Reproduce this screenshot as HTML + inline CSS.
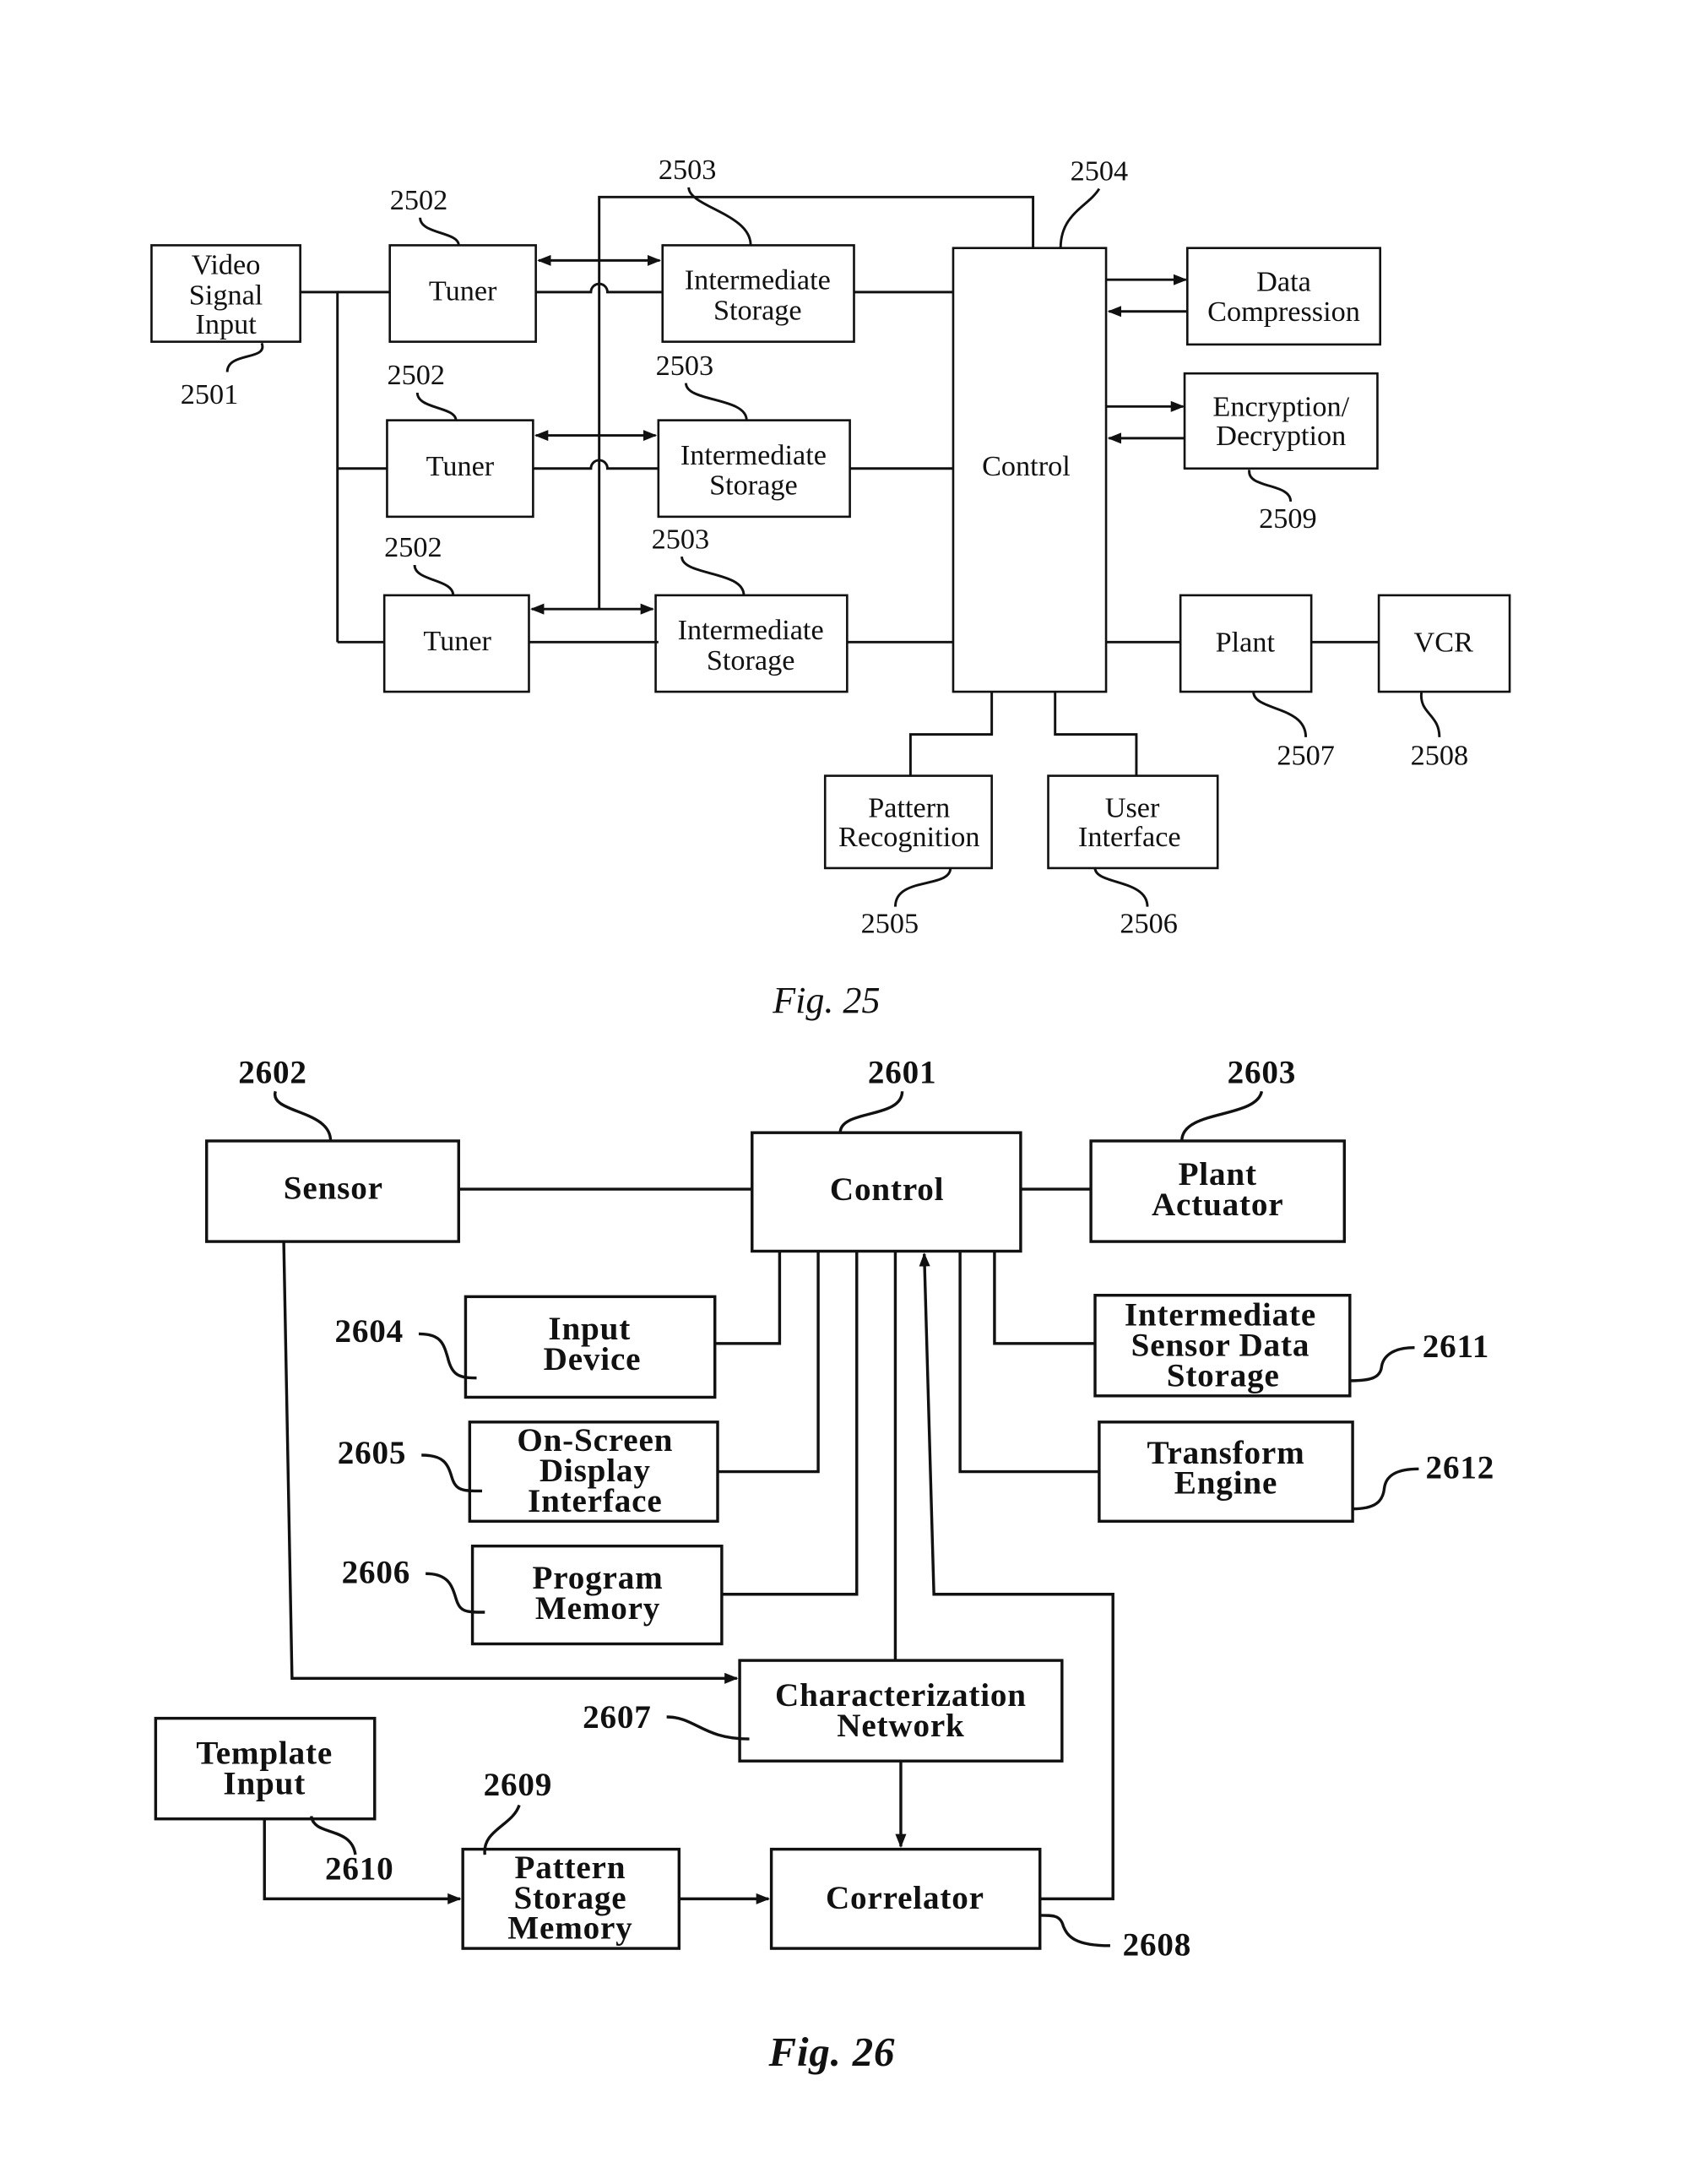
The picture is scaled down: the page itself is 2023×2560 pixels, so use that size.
<!DOCTYPE html>
<html><head><meta charset="utf-8"><style>
html,body{margin:0;padding:0;background:#fff;}
svg{display:block;}
text{font-family:"Liberation Serif",serif;fill:#111;}
.a text{font-size:21px;}
.b text{font-size:24px;letter-spacing:0.5px;font-weight:bold;}
rect{fill:none;stroke:#111;stroke-width:1.6;}
line,polyline,path{fill:none;stroke:#111;stroke-width:1.8;}
.b rect,.b line,.b polyline,.b path{stroke-width:2.1;}
</style></head><body>
<svg width="2023" height="2560" viewBox="0 0 1240 1569" preserveAspectRatio="none">
<defs>
<marker id="ar" markerWidth="10" markerHeight="8" refX="9" refY="4" orient="auto" markerUnits="userSpaceOnUse"><path d="M0,0 L10,4 L0,8 Z" style="fill:#111;stroke:none"/></marker>
<marker id="al" markerWidth="10" markerHeight="8" refX="1" refY="4" orient="auto" markerUnits="userSpaceOnUse"><path d="M10,0 L0,4 L10,8 Z" style="fill:#111;stroke:none"/></marker>
</defs>
<g class="a" text-anchor="middle">
<rect x="110" y="178" width="108" height="70"/>
<text x="164" y="199">Video</text><text x="164" y="221">Signal</text><text x="164" y="242">Input</text>
<rect x="283" y="178" width="106" height="70"/><text x="336" y="218">Tuner</text>
<rect x="281" y="305" width="106" height="70"/><text x="334" y="345">Tuner</text>
<rect x="279" y="432" width="105" height="70"/><text x="332" y="472">Tuner</text>
<rect x="481" y="178" width="139" height="70"/><text x="550" y="210">Intermediate</text><text x="550" y="232">Storage</text>
<rect x="478" y="305" width="139" height="70"/><text x="547" y="337">Intermediate</text><text x="547" y="359">Storage</text>
<rect x="476" y="432" width="139" height="70"/><text x="545" y="464">Intermediate</text><text x="545" y="486">Storage</text>
<rect x="692" y="180" width="111" height="322"/><text x="745" y="345">Control</text>
<rect x="862" y="180" width="140" height="70"/><text x="932" y="211">Data</text><text x="932" y="233">Compression</text>
<rect x="860" y="271" width="140" height="69"/><text x="930" y="302">Encryption/</text><text x="930" y="323">Decryption</text>
<rect x="857" y="432" width="95" height="70"/><text x="904" y="473">Plant</text>
<rect x="1001" y="432" width="95" height="70"/><text x="1048" y="473">VCR</text>
<rect x="599" y="563" width="121" height="67"/><text x="660" y="593">Pattern</text><text x="660" y="614">Recognition</text>
<rect x="761" y="563" width="123" height="67"/><text x="822" y="593">User</text><text x="820" y="614">Interface</text>
<polyline points="218,212 245,212 245,466"/>
<line x1="245" y1="340" x2="281" y2="340"/><line x1="245" y1="466" x2="279" y2="466"/><line x1="245" y1="212" x2="283" y2="212"/>
<polyline points="435,442 435,143 750,143 750,180"/>
<path d="M389,212 H429 A6,6 0 0 1 441,212 H481"/>
<path d="M387,340 H429 A6,6 0 0 1 441,340 H478"/>
<path d="M384,466 H478"/>
<line x1="391" y1="189" x2="479" y2="189" marker-start="url(#al)" marker-end="url(#ar)"/>
<line x1="389" y1="316" x2="476" y2="316" marker-start="url(#al)" marker-end="url(#ar)"/>
<line x1="386" y1="442" x2="474" y2="442" marker-start="url(#al)" marker-end="url(#ar)"/>
<line x1="620" y1="212" x2="692" y2="212"/><line x1="617" y1="340" x2="692" y2="340"/><line x1="615" y1="466" x2="692" y2="466"/>
<line x1="803" y1="203" x2="861" y2="203" marker-end="url(#ar)"/>
<line x1="862" y1="226" x2="805" y2="226" marker-end="url(#ar)"/>
<line x1="803" y1="295" x2="859" y2="295" marker-end="url(#ar)"/>
<line x1="860" y1="318" x2="805" y2="318" marker-end="url(#ar)"/>
<line x1="803" y1="466" x2="857" y2="466"/><line x1="952" y1="466" x2="1001" y2="466"/>
<polyline points="720,502 720,533 661,533 661,563"/>
<polyline points="766,502 766,533 825,533 825,563"/>
<text x="152" y="293">2501</text><path d="M190,249 C195,262 165,255 165,270"/>
<text x="304" y="152">2502</text><path d="M305,158 C305,170 333,168 333,178"/>
<text x="302" y="279">2502</text><path d="M303,285 C303,297 331,295 331,305"/>
<text x="300" y="404">2502</text><path d="M301,410 C301,422 329,420 329,432"/>
<text x="499" y="130">2503</text><path d="M500,136 C500,150 545,155 545,178"/>
<text x="497" y="272">2503</text><path d="M498,278 C498,292 542,288 542,305"/>
<text x="494" y="398">2503</text><path d="M495,404 C495,418 540,414 540,432"/>
<text x="798" y="131">2504</text><path d="M798,137 C790,150 770,155 770,180"/>
<text x="935" y="383">2509</text><path d="M907,341 C905,355 937,350 937,364"/>
<text x="948" y="555">2507</text><path d="M910,502 C910,516 948,512 948,535"/>
<text x="1045" y="555">2508</text><path d="M1032,502 C1030,518 1045,518 1045,535"/>
<text x="646" y="677">2505</text><path d="M690,630 C690,645 650,636 650,658"/>
<text x="834" y="677">2506</text><path d="M795,630 C795,642 833,638 833,658"/>
<text x="600" y="735" font-style="italic" style="font-size:27px">Fig. 25</text>
</g>
<g class="b" text-anchor="middle">
<rect x="150" y="828" width="183" height="73"/><text x="242" y="870">Sensor</text>
<rect x="546" y="822" width="195" height="86"/><text x="644" y="871">Control</text>
<rect x="792" y="828" width="184" height="73"/><text x="884" y="860">Plant</text><text x="884" y="882">Actuator</text>
<rect x="338" y="941" width="181" height="73"/><text x="428" y="972">Input</text><text x="430" y="994">Device</text>
<rect x="341" y="1032" width="180" height="72"/><text x="432" y="1053">On-Screen</text><text x="432" y="1075">Display</text><text x="432" y="1097">Interface</text>
<rect x="343" y="1122" width="181" height="71"/><text x="434" y="1153">Program</text><text x="434" y="1175">Memory</text>
<rect x="795" y="940" width="185" height="73"/><text x="886" y="962">Intermediate</text><text x="886" y="984">Sensor Data</text><text x="888" y="1006">Storage</text>
<rect x="798" y="1032" width="184" height="72"/><text x="890" y="1062">Transform</text><text x="890" y="1084">Engine</text>
<rect x="537" y="1205" width="234" height="73"/><text x="654" y="1238">Characterization</text><text x="654" y="1260">Network</text>
<rect x="113" y="1247" width="159" height="73"/><text x="192" y="1280">Template</text><text x="192" y="1302">Input</text>
<rect x="336" y="1342" width="157" height="72"/><text x="414" y="1363">Pattern</text><text x="414" y="1385">Storage</text><text x="414" y="1407">Memory</text>
<rect x="560" y="1342" width="195" height="72"/><text x="657" y="1385">Correlator</text>
<line x1="333" y1="863" x2="546" y2="863"/><line x1="741" y1="863" x2="792" y2="863"/>
<polyline points="206,901 212,1218 535,1218" marker-end="url(#ar)"/>
<polyline points="566,908 566,975 519,975"/>
<polyline points="594,908 594,1068 521,1068"/>
<polyline points="622,908 622,1157 524,1157"/>
<line x1="650" y1="908" x2="650" y2="1205"/>
<polyline points="755,1378 808,1378 808,1157 678,1157 671,910" marker-end="url(#ar)"/>
<polyline points="722,908 722,975 795,975"/>
<polyline points="697,908 697,1068 798,1068"/>
<line x1="654" y1="1278" x2="654" y2="1340" marker-end="url(#ar)"/>
<polyline points="192,1320 192,1378 334,1378" marker-end="url(#ar)"/>
<line x1="493" y1="1378" x2="558" y2="1378" marker-end="url(#ar)"/>
<text x="198" y="786">2602</text><path d="M200,792 C195,808 240,805 240,828"/>
<text x="655" y="786">2601</text><path d="M655,792 C655,812 610,805 610,822"/>
<text x="916" y="786">2603</text><path d="M916,792 C912,812 858,805 858,828"/>
<text x="268" y="974">2604</text><path d="M304,968 C320,968 322,975 325,985 C328,998 333,1000 346,1000"/>
<text x="270" y="1062">2605</text><path d="M306,1056 C322,1056 325,1062 328,1072 C331,1082 336,1082 350,1082"/>
<text x="273" y="1149">2606</text><path d="M309,1142 C325,1142 328,1150 331,1160 C334,1170 338,1170 352,1170"/>
<text x="1057" y="985">2611</text><path d="M1027,978 C1010,978 1004,985 1003,992 C1002,1000 995,1002 980,1002"/>
<text x="1060" y="1073">2612</text><path d="M1030,1066 C1012,1066 1006,1072 1005,1080 C1004,1090 998,1095 982,1095"/>
<text x="448" y="1254">2607</text><path d="M484,1246 C505,1246 510,1262 544,1262"/>
<text x="376" y="1303">2609</text><path d="M377,1310 C372,1325 350,1328 352,1346"/>
<text x="261" y="1364">2610</text><path d="M226,1318 C228,1333 255,1325 258,1346"/>
<text x="840" y="1419">2608</text><path d="M806,1412 C780,1412 775,1405 772,1398 C770,1390 765,1390 755,1390"/>
<text x="604" y="1499" font-style="italic" style="font-size:30px">Fig. 26</text>
</g>
</svg>
</body></html>
